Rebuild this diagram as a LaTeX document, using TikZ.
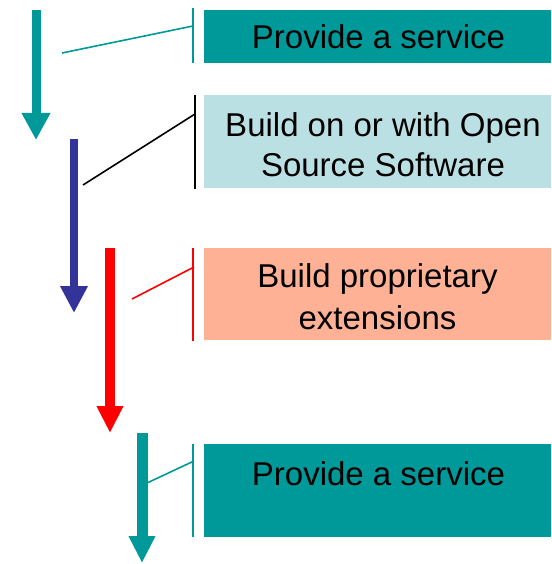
\documentclass[tikz,border=0pt]{standalone}
\usepackage{fontspec}
\setmainfont{Liberation Sans}
\usetikzlibrary{arrows.meta}

\definecolor{svcteal}{HTML}{009999}
\definecolor{osslight}{HTML}{BBE0E3}
\definecolor{propsalmon}{HTML}{FFB195}
\definecolor{ossblue}{HTML}{333399}
\definecolor{propred}{HTML}{FF0000}

\tikzset{
  panel/.style={draw=none, anchor=north west, inner sep=0pt, minimum width=347pt},
  caption/.style={anchor=base, inner sep=0pt, font=\fontsize{33}{40}\selectfont},
  bracket/.style={line width=2.5pt},
  link/.style={line width=1.6pt},
  flow/.style={-{Triangle[width=#1, length=27pt]}},
}

\begin{document}
\begin{tikzpicture}[x=1pt, y=-1pt]
\useasboundingbox (0,0) rectangle (551,564);

% coloured panels
\node[panel, fill=svcteal, minimum height=53pt] (svc1) at (204,10) {};
\node[panel, fill=osslight, minimum height=93pt] (oss) at (204,95) {};
\node[panel, fill=propsalmon, minimum height=92pt] (prop) at (204,248) {};
\node[panel, fill=svcteal, minimum height=93pt] (svc2) at (204,444) {};

% panel texts
\node[caption] (t1) at (378.5,49) {Provide a service};
\node[caption] (t2a) at (383,137) {Build on or with Open};
\node[caption] (t2b) at (383,176) {Source Software};
\node[caption] (t3a) at (377.5,287) {Build proprietary};
\node[caption] (t3b) at (377.5,329) {extensions};
\node[caption] (t4) at (378.5,485) {Provide a service};

% brackets beside the panels
\coordinate (b1top) at (193,8);   \coordinate (b1bot) at (193,63);  \coordinate (b1c) at (193,26);
\coordinate (b2top) at (195,95);  \coordinate (b2bot) at (195,189); \coordinate (b2c) at (195,114);
\coordinate (b3top) at (193,248); \coordinate (b3bot) at (193,341); \coordinate (b3c) at (194,267);
\coordinate (b4top) at (193,444); \coordinate (b4bot) at (193,537); \coordinate (b4c) at (194,461);

\draw[bracket, svcteal] (b1top) -- (b1bot);
\draw[bracket, black, line width=2pt] (b2top) -- (b2bot);
\draw[bracket, propred] (b3top) -- (b3bot);
\draw[bracket, svcteal] (b4top) -- (b4bot);

% flow arrows
\coordinate (a1s) at (36,10);   \coordinate (a1e) at (36,140);
\coordinate (a2s) at (74,139);  \coordinate (a2e) at (74,313);
\coordinate (a3s) at (110,248); \coordinate (a3e) at (110,433);
\coordinate (a4s) at (142,433); \coordinate (a4e) at (142,563);

\draw[flow=27pt, svcteal, line width=9pt] (a1s) -- (a1e);
\draw[flow=26pt, ossblue, line width=8pt] (a2s) -- (a2e);
\draw[flow=25pt, propred, line width=10pt] (a3s) -- (a3e);
\draw[flow=25pt, svcteal, line width=11pt] (a4s) -- (a4e);

% links from arrows to brackets
\coordinate (l1) at (62,53);
\coordinate (l2) at (83,185);
\coordinate (l3) at (132,299);
\coordinate (l4) at (147,483);

\draw[link, svcteal] (l1) -- (b1c);
\draw[link, black] (l2) -- (b2c);
\draw[link, propred] (l3) -- (b3c);
\draw[link, svcteal] (l4) -- (b4c);
\end{tikzpicture}
\end{document}
